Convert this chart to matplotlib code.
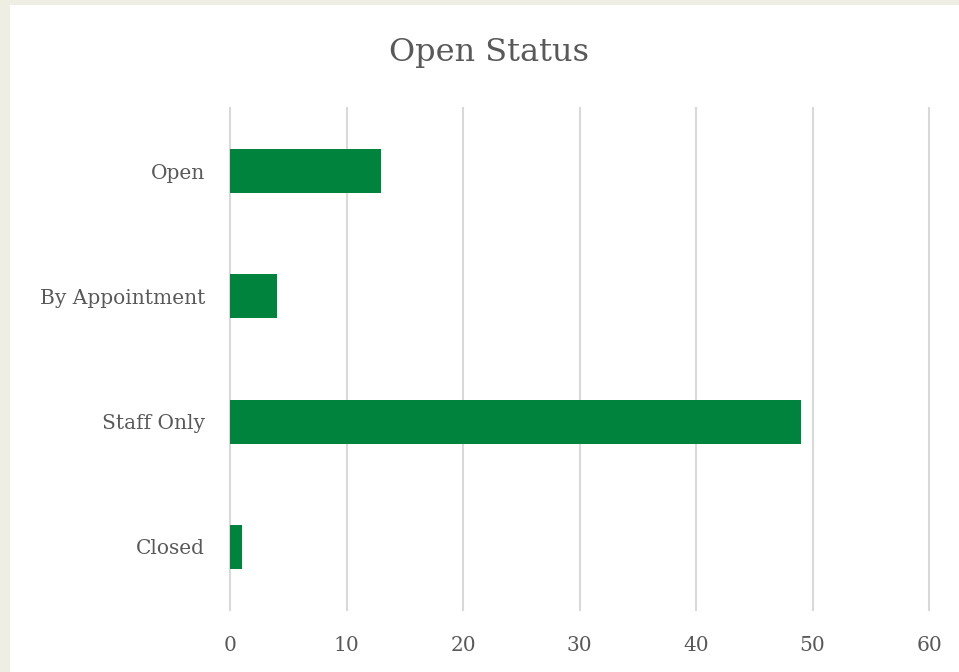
import matplotlib
matplotlib.use('Agg')
import matplotlib.pyplot as plt
from matplotlib.patches import Rectangle

categories = ['Open', 'By Appointment', 'Staff Only', 'Closed']
counts = [13, 4, 49, 1]
xticks = [0, 10, 20, 30, 40, 50, 60]

plt.rcParams['font.family'] = ['DejaVu Serif']
text_color = '#595959'

fig = plt.figure(figsize=(9.59, 6.72), dpi=100, facecolor='#EEEEE2')
# white chart area inside the cream frame
fig.patches.append(Rectangle((10 / 959, 0), 1, 1 - 5 / 672, transform=fig.transFigure,
                             facecolor='white', edgecolor='none', zorder=-10))

ax = fig.add_axes([230 / 959, 1 - 609.6 / 672, 699 / 959, 501.2 / 672])
ax.set_zorder(5)
ax.set_facecolor('none')
ypos = list(range(len(categories)))
ax.barh(ypos, counts, height=0.35, color='#00843D', zorder=3)
ax.set_ylim(len(categories) - 0.5, -0.5)
ax.set_yticks(ypos)
ax.set_yticklabels(categories)
ax.set_xlim(0, 60)
ax.set_xticks(xticks)
ax.grid(axis='x', color='#D9D9D9', linewidth=1.5, zorder=0)
for gl in ax.get_xgridlines():
    gl.set_clip_on(False)
for s in ax.spines.values():
    s.set_visible(False)
ax.tick_params(axis='both', length=0, labelsize=14.5, labelcolor=text_color)
ax.tick_params(axis='y', pad=18)
ax.tick_params(axis='x', pad=19)

fig.text(489 / 959, 1 - 52 / 672, 'Open Status', ha='center', va='center',
         fontsize=23, color=text_color, zorder=10)

fig.savefig('out.png', dpi=100, facecolor=fig.get_facecolor())
